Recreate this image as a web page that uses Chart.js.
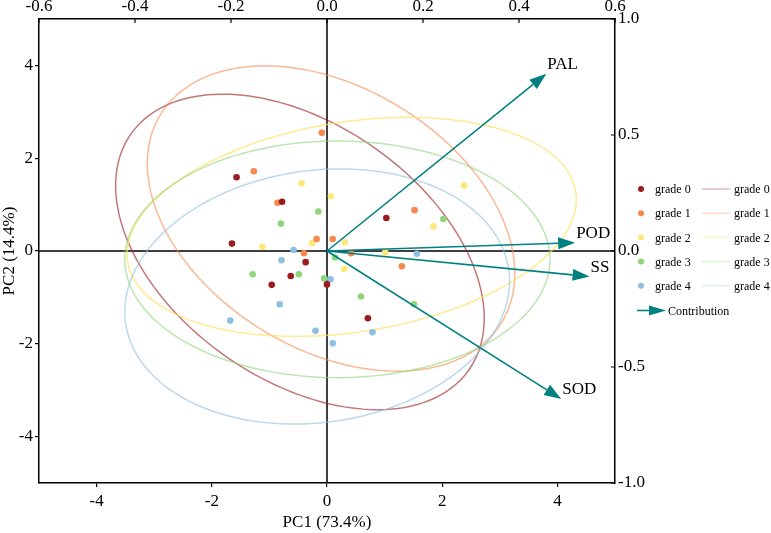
<!DOCTYPE html>
<html>
<head>
<meta charset="utf-8">
<script src="https://cdn.jsdelivr.net/npm/chart.js@4/dist/chart.umd.min.js"></script>
<style>
  html, body { margin: 0; padding: 0; background: #fff; }
</style>
</head>
<body>
<canvas id="pcaChart" width="771" height="533"></canvas>
<script>
// sample scores (PC1, PC2) per grade
const GRADES = ['grade 0', 'grade 1', 'grade 2', 'grade 3', 'grade 4'];
const PC1_G0 = [-1.57, -0.78, -1.65, 1.03, -0.37, -0.63, -0.96, 0.00, 0.71];
const PC2_G0 = [1.59, 1.06, 0.16, 0.71, -0.24, -0.54, -0.73, -0.72, -1.45];
const PC1_G1 = [-0.09, -1.27, -0.86, -0.18, 1.52, 0.10, -0.40, 0.42, 1.30];
const PC2_G1 = [2.55, 1.72, 1.04, 0.26, 0.88, 0.26, -0.05, -0.05, -0.33];
const PC1_G2 = [-0.44, 0.07, -1.12, -0.26, 1.85, 0.31, 2.38, 1.01, 0.30];
const PC2_G2 = [1.46, 1.18, 0.09, 0.17, 0.53, 0.19, 1.41, -0.03, -0.39];
const PC1_G3 = [-0.15, -0.80, 2.02, -1.29, -0.49, -0.05, 0.14, 0.59, 1.51];
const PC2_G3 = [0.85, 0.59, 0.69, -0.50, -0.50, -0.59, -0.14, -0.98, -1.15];
const PC1_G4 = [-0.58, -0.79, 0.06, -0.82, -1.68, -0.20, 1.56, 0.79, 0.10];
const PC2_G4 = [0.02, -0.20, -0.61, -1.15, -1.50, -1.72, -0.06, -1.75, -1.99];

// confidence ellipses: centre, half extents and correlation
const ELL_CX = [-0.47, 0.07, 0.43, 0.18, -0.17];
const ELL_CY = [-0.02, 0.70, 0.52, -0.18, -0.98];
const ELL_SX = [3.20, 3.19, 3.90, 3.69, 3.34];
const ELL_SY = [3.40, 3.29, 2.36, 2.55, 2.75];
const ELL_R = [-0.42, -0.36, 0.25, 0.00, 0.12];

// variable loadings (top / right axes)
const VARS = ['PAL', 'POD', 'SS', 'SOD'];
const LOAD_X = [0.457, 0.517, 0.547, 0.488];
const LOAD_Y = [0.764, 0.036, -0.110, -0.638];

const X_TICKS = [-4, -2, 0, 2, 4];
const Y_TICKS = [-4, -2, 0, 2, 4];
const TOP_TICKS = [-0.6, -0.4, -0.2, 0.0, 0.2, 0.4, 0.6];
const RIGHT_TICKS = [-1.0, -0.5, 0.0, 0.5, 1.0];

const pointColors = ['#9b1c1f', '#f7884f', '#fde87a', '#8fd67a', '#8fbfe0'];
const ellipseColors = ['rgba(155,28,31,0.6)', 'rgba(247,136,79,0.6)', 'rgba(253,225,100,0.7)',
  'rgba(143,214,122,0.6)', 'rgba(143,191,224,0.6)'];
const legendLineColors = ['rgba(155,28,31,0.3)', 'rgba(247,136,79,0.3)', 'rgba(253,232,122,0.4)',
  'rgba(143,214,122,0.3)', 'rgba(143,191,224,0.3)'];
const TEAL = '#008080';
const FONT = 'Liberation Serif, Times New Roman, serif';

const pc1 = [PC1_G0, PC1_G1, PC1_G2, PC1_G3, PC1_G4];
const pc2 = [PC2_G0, PC2_G1, PC2_G2, PC2_G3, PC2_G4];

const datasets = GRADES.map(function (g, i) {
  return {
    label: g,
    data: pc1[i].map(function (x, j) { return { x: x, y: pc2[i][j] }; }),
    backgroundColor: pointColors[i],
    borderWidth: 0,
    pointRadius: 3.3,
    pointHoverRadius: 3.3,
    xAxisID: 'x',
    yAxisID: 'y'
  };
});

function setTicks(list) {
  return function (scale) { scale.ticks = list.map(function (v) { return { value: v }; }); };
}

function drawArrow(ctx, x0, y0, x1, y1, len, half) {
  const a = Math.atan2(y1 - y0, x1 - x0);
  const bx = x1 - len * Math.cos(a), by = y1 - len * Math.sin(a);
  ctx.beginPath();
  ctx.moveTo(x0, y0);
  ctx.lineTo(bx, by);
  ctx.stroke();
  ctx.beginPath();
  ctx.moveTo(x1, y1);
  ctx.lineTo(bx + half * Math.sin(a), by - half * Math.cos(a));
  ctx.lineTo(bx - half * Math.sin(a), by + half * Math.cos(a));
  ctx.closePath();
  ctx.fill();
}

const biplot = {
  id: 'biplot',
  beforeDatasetsDraw(chart) {
    const ctx = chart.ctx, area = chart.chartArea;
    const sx = chart.scales.x, sy = chart.scales.y;
    ctx.save();
    ctx.beginPath();
    ctx.rect(area.left, area.top, area.right - area.left, area.bottom - area.top);
    ctx.clip();
    // zero lines
    ctx.strokeStyle = '#000';
    ctx.lineWidth = 1.5;
    ctx.beginPath();
    ctx.moveTo(area.left, sy.getPixelForValue(0));
    ctx.lineTo(area.right, sy.getPixelForValue(0));
    ctx.moveTo(sx.getPixelForValue(0), area.top);
    ctx.lineTo(sx.getPixelForValue(0), area.bottom);
    ctx.stroke();
    // ellipses
    ctx.lineWidth = 1.5;
    for (let i = 0; i < GRADES.length; i++) {
      const k = Math.sqrt(1 - ELL_R[i] * ELL_R[i]);
      ctx.strokeStyle = ellipseColors[i];
      ctx.beginPath();
      for (let s = 0; s <= 180; s++) {
        const t = s / 180 * Math.PI * 2;
        const ex = ELL_CX[i] + ELL_SX[i] * Math.cos(t);
        const ey = ELL_CY[i] + ELL_SY[i] * (ELL_R[i] * Math.cos(t) + k * Math.sin(t));
        const px = sx.getPixelForValue(ex), py = sy.getPixelForValue(ey);
        if (s === 0) ctx.moveTo(px, py); else ctx.lineTo(px, py);
      }
      ctx.stroke();
    }
    ctx.restore();
  },
  afterDatasetsDraw(chart) {
    const ctx = chart.ctx;
    const sx = chart.scales.x2, sy = chart.scales.y2;
    const ox = sx.getPixelForValue(0), oy = sy.getPixelForValue(0);
    ctx.save();
    ctx.strokeStyle = TEAL;
    ctx.fillStyle = TEAL;
    ctx.lineWidth = 1.6;
    for (let i = 0; i < VARS.length; i++) {
      const tx = sx.getPixelForValue(LOAD_X[i]), ty = sy.getPixelForValue(LOAD_Y[i]);
      drawArrow(ctx, ox, oy, tx, ty, 17, 6);
    }
    ctx.fillStyle = '#000';
    ctx.font = '17px ' + FONT;
    ctx.textAlign = 'left';
    ctx.textBaseline = 'middle';
    for (let i = 0; i < VARS.length; i++) {
      const tx = sx.getPixelForValue(LOAD_X[i]), ty = sy.getPixelForValue(LOAD_Y[i]);
      ctx.fillText(VARS[i], tx + 1, ty - 9);
    }
    ctx.restore();
  },
  afterDraw(chart) {
    const ctx = chart.ctx, area = chart.chartArea;
    ctx.save();
    // inward ticks on top and right axes
    ctx.strokeStyle = '#000';
    ctx.lineWidth = 1.2;
    ctx.beginPath();
    TOP_TICKS.forEach(function (v) {
      const px = chart.scales.x2.getPixelForValue(v);
      ctx.moveTo(px, area.top);
      ctx.lineTo(px, area.top + 4);
    });
    RIGHT_TICKS.forEach(function (v) {
      const py = chart.scales.y2.getPixelForValue(v);
      ctx.moveTo(area.right, py);
      ctx.lineTo(area.right - 4, py);
    });
    ctx.stroke();

    // legend
    const lx = area.right + 26;
    const top = 189, step = 24.2;
    ctx.font = '12px ' + FONT;
    ctx.textBaseline = 'middle';
    ctx.textAlign = 'left';
    for (let i = 0; i < GRADES.length; i++) {
      const y = top + i * step;
      ctx.fillStyle = pointColors[i];
      ctx.beginPath();
      ctx.arc(lx, y, 3, 0, Math.PI * 2);
      ctx.fill();
      ctx.fillStyle = '#000';
      ctx.fillText(GRADES[i], lx + 14, y + 1);
      ctx.strokeStyle = legendLineColors[i];
      ctx.lineWidth = 1.5;
      ctx.beginPath();
      ctx.moveTo(lx + 61, y);
      ctx.lineTo(lx + 89, y);
      ctx.stroke();
      ctx.fillText(GRADES[i], lx + 93, y + 1);
    }
    const ay = top + 5 * step + 0.5;
    ctx.strokeStyle = TEAL;
    ctx.fillStyle = TEAL;
    ctx.lineWidth = 1.6;
    drawArrow(ctx, lx - 4, ay, lx + 25, ay, 17, 5);
    ctx.fillStyle = '#000';
    ctx.fillText('Contribution', lx + 27, ay + 1);
    ctx.restore();
  }
};

const tickFont = { family: FONT, size: 17 };

new Chart(document.getElementById('pcaChart'), {
  type: 'scatter',
  data: { datasets: datasets },
  options: {
    responsive: false,
    animation: false,
    layout: { padding: 0 },
    plugins: { legend: { display: false }, tooltip: { enabled: false } },
    scales: {
      x: {
        type: 'linear', position: 'bottom', min: -5, max: 5,
        afterBuildTicks: setTicks(X_TICKS),
        afterFit: function (s) { s.height = 50; },
        ticks: { font: tickFont, color: '#000', padding: 4 },
        grid: { display: true, drawOnChartArea: false, drawTicks: true, tickLength: 4, color: '#000', lineWidth: 1.2 },
        border: { display: true, color: '#000', width: 1.5 },
        title: { display: true, text: 'PC1 (73.4%)', font: tickFont, color: '#000', padding: 0 }
      },
      y: {
        type: 'linear', position: 'left', min: -5, max: 5,
        afterBuildTicks: setTicks(Y_TICKS),
        afterFit: function (s) { s.width = 39; },
        ticks: { font: tickFont, color: '#000', padding: 2 },
        grid: { display: true, drawOnChartArea: false, drawTicks: true, tickLength: 4, color: '#000', lineWidth: 1.2 },
        border: { display: true, color: '#000', width: 1.5 },
        title: { display: true, text: 'PC2 (14.4%)', font: tickFont, color: '#000', padding: { top: -1 } }
      },
      x2: {
        type: 'linear', position: 'top', min: -0.6, max: 0.6,
        afterBuildTicks: setTicks(TOP_TICKS),
        afterFit: function (s) { s.height = 19; },
        ticks: { font: tickFont, color: '#000', padding: 2, callback: function (v) { return v.toFixed(1); } },
        grid: { display: false, drawTicks: false },
        border: { display: true, color: '#000', width: 1.5 }
      },
      y2: {
        type: 'linear', position: 'right', min: -1, max: 1,
        afterBuildTicks: setTicks(RIGHT_TICKS),
        afterFit: function (s) { s.width = 156; },
        ticks: { font: tickFont, color: '#000', padding: 3, callback: function (v) { return v.toFixed(1); } },
        grid: { display: false, drawTicks: false },
        border: { display: true, color: '#000', width: 1.5 }
      }
    }
  },
  plugins: [biplot]
});
</script>
</body>
</html>
